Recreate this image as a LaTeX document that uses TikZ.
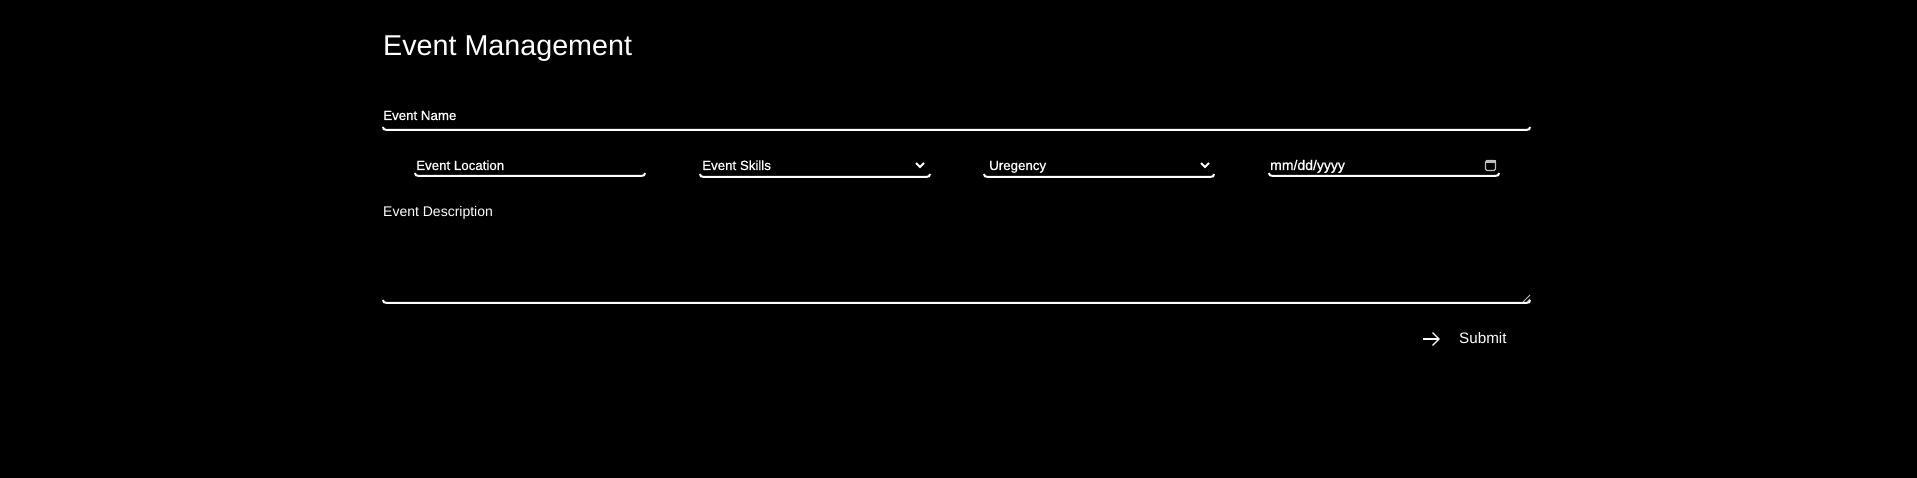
\documentclass[tikz,border=0pt]{standalone}
\usepackage{fontspec}
\setmainfont{Liberation Sans}
\newfontfamily\semibold[FakeBold=0.6]{Liberation Sans}
\tikzstyle{fieldtext} = [text=white, anchor=base west, inner sep=0pt, font={\semibold\fontsize{13.3}{16}\selectfont}]
\tikzstyle{plaintext} = [fieldtext, font={\fontsize{14}{17}\selectfont}]
\tikzstyle{heading} = [fieldtext, font={\fontsize{28.7}{35}\selectfont}]
\tikzstyle{underline} = [draw=white, line width=2pt]
\tikzstyle{chevron} = [draw=white, line width=1.8pt]
\tikzstyle{iconline} = [draw=white!75!black, line width=1.2pt]

\begin{document}
\begin{tikzpicture}[x=1pt,y=-1pt]
    \fill[black] (0,0) rectangle (1917,478);
    \useasboundingbox (0,0) rectangle (1917,478);
    % title
    \node[heading](title) at (383,56){Event Management};
    % event name
    \node[fieldtext](name) at (383,120){Event Name};
    \draw[underline] (383,127) .. controls (383,129) and (384,130) .. (387,130) -- (1526,130) .. controls (1529,130) and (1530,129) .. (1530,127);
    % second row
    \node[fieldtext](location) at (416,170){Event Location};
    \node[fieldtext](skills) at (702,170){Event Skills};
    \node[fieldtext](urgency) at (989,170){Uregency};
    \node[fieldtext,font={\semibold\fontsize{14}{16}\selectfont}](date) at (1270,170){mm/dd/yyyy};
    \draw[underline] (415,173) .. controls (415,175) and (416,176) .. (419,176) -- (641,176) .. controls (644,176) and (645,175) .. (645,173);
    \draw[underline] (700,174) .. controls (700,176) and (701,177) .. (704,177) -- (926,177) .. controls (929,177) and (930,176) .. (930,174);
    \draw[underline] (984,174) .. controls (984,176) and (985,177) .. (988,177) -- (1210,177) .. controls (1213,177) and (1214,176) .. (1214,174);
    \draw[underline] (1269,173) .. controls (1269,175) and (1270,176) .. (1273,176) -- (1495,176) .. controls (1498,176) and (1499,175) .. (1499,173);
    \draw[chevron] (916,163) -- (920,167) -- (924,163);
    \draw[chevron] (1201,163) -- (1205,167) -- (1209,163);
    \draw[iconline, rounded corners=1.5pt] (1485.5,160.5) rectangle (1495.5,170.5);
    \fill[white!75!black] (1485.5,160.5) rectangle (1495.5,163.5);
    % description
    \node[plaintext](description) at (383,216.5){Event Description};
    \draw[underline] (383,300) .. controls (383,302) and (384,303) .. (387,303) -- (1526,303) .. controls (1529,303) and (1530,302) .. (1530,300);
    \draw[iconline, line width=0.8pt] (1523,302) -- (1530,295);
    \draw[iconline, line width=0.8pt] (1527,302) -- (1530,299);
    % submit
    \node[plaintext,font={\fontsize{15.2}{18}\selectfont}](submit) at (1459,344){Submit};
    \coordinate (arrowtail) at (1423,339);
    \coordinate (arrowhead) at (1439,339);
    \draw[white, line width=1.3pt] (arrowtail) -- (arrowhead);
    \draw[white, line width=1.3pt] (1432.5,332.5) -- (arrowhead) -- (1432.5,345.5);
\end{tikzpicture}
\end{document}
